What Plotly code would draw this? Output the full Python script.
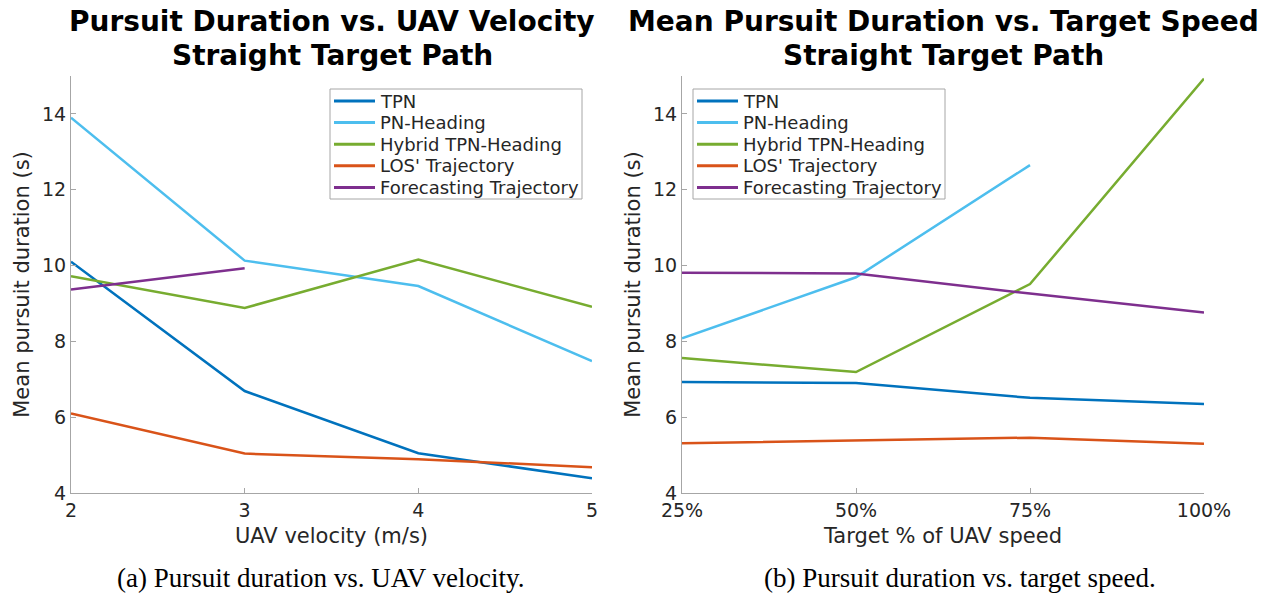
import plotly.graph_objects as go

# --- Données ---
uav_velocity = [2, 3, 4, 5]
target_pct = [25, 50, 75, 100]
target_labels = ["25%", "50%", "75%", "100%"]

names = ["TPN", "PN-Heading", "Hybrid TPN-Heading", "LOS' Trajectory", "Forecasting Trajectory"]
colors = ["#0072BD", "#4DBEEE", "#77AC30", "#D95319", "#7E2F8E"]

# (a) durée vs vitesse UAV
tpn_a = [10.1, 6.69, 5.05, 4.39]
pnh_a = [13.9, 10.13, 9.46, 7.48]
hyb_a = [9.72, 8.88, 10.16, 8.91]
los_a = [6.1, 5.04, 4.89, 4.68]
fct_a = [9.37, 9.93, None, None]

# (b) durée vs vitesse cible
tpn_b = [6.93, 6.90, 6.51, 6.35]
pnh_b = [8.08, 9.69, 12.65, None]
hyb_b = [7.56, 7.19, 9.51, 14.93]
los_b = [5.31, 5.38, 5.46, 5.30]
fct_b = [9.81, 9.79, 9.26, 8.76]

series_a = [tpn_a, pnh_a, hyb_a, los_a, fct_a]
series_b = [tpn_b, pnh_b, hyb_b, los_b, fct_b]

W, H = 1270, 600
txt = "#262626"
axc = "#a6a6a6"
font = "DejaVu Sans"

fig = go.Figure()

for name, col, ya in zip(names, colors, series_a):
    fig.add_trace(go.Scatter(x=uav_velocity, y=ya, mode="lines", name=name,
                             line=dict(color=col, width=2.5), xaxis="x", yaxis="y",
                             showlegend=False))
for name, col, yb in zip(names, colors, series_b):
    fig.add_trace(go.Scatter(x=target_pct, y=yb, mode="lines", name=name,
                             line=dict(color=col, width=2.5), xaxis="x2", yaxis="y2",
                             showlegend=False))

axis_common = dict(showline=True, linecolor=axc, linewidth=1, showgrid=False, zeroline=False,
                   ticks="inside", ticklen=5, tickcolor=axc, automargin=False,
                   tickfont=dict(family=font, size=19, color=txt), mirror=False)
title_font = dict(family=font, size=21, color=txt)

fig.update_layout(
    width=W, height=H,
    margin=dict(l=0, r=0, t=0, b=0),
    plot_bgcolor="white", paper_bgcolor="white",
    xaxis=dict(domain=[71 / W, 592 / W], range=[2, 5], tickvals=uav_velocity,
               title=dict(text="UAV velocity (m/s)", font=title_font, standoff=8),
               anchor="y", **axis_common),
    yaxis=dict(domain=[1 - 493 / H, 1 - 76 / H], range=[4, 15], tickvals=[4, 6, 8, 10, 12, 14],
               title=dict(text="Mean pursuit duration (s)", font=title_font, standoff=6),
               anchor="x", **axis_common),
    xaxis2=dict(domain=[682 / W, 1204 / W], range=[25, 100], tickvals=target_pct,
                ticktext=target_labels,
                title=dict(text="Target % of UAV speed", font=title_font, standoff=8),
                anchor="y2", **axis_common),
    yaxis2=dict(domain=[1 - 493 / H, 1 - 76 / H], range=[4, 15], tickvals=[4, 6, 8, 10, 12, 14],
                title=dict(text="Mean pursuit duration (s)", font=title_font, standoff=6),
                anchor="x2", **axis_common),
)

# --- Légendes (style MATLAB, lignes serrées) ---
row_h = 21.6
for box_x in (330, 693):
    box_y = 89
    fig.add_shape(type="rect", xref="paper", yref="paper",
                  x0=box_x / W, x1=(box_x + 252) / W, y0=1 - box_y / H, y1=1 - (box_y + 110) / H,
                  line=dict(color=axc, width=1), fillcolor="white", layer="above")
    for k, (name, col) in enumerate(zip(names, colors)):
        yc = box_y + 12 + k * row_h
        fig.add_shape(type="line", xref="paper", yref="paper",
                      x0=(box_x + 4) / W, x1=(box_x + 45) / W, y0=1 - yc / H, y1=1 - yc / H,
                      line=dict(color=col, width=3), layer="above")
        fig.add_annotation(text=name, x=(box_x + 48) / W, y=1 - yc / H, xref="paper", yref="paper",
                           xanchor="left", yanchor="middle", showarrow=False,
                           font=dict(family=font, size=18, color=txt))

# --- Titres et sous-légendes ---
titles = [("Pursuit Duration vs. UAV Velocity", "Straight Target Path", 332),
          ("Mean Pursuit Duration vs. Target Speed", "Straight Target Path", 943)]
for t1, t2, xc in titles:
    for t, yc in ((t1, 22), (t2, 55)):
        fig.add_annotation(text="<b>" + t + "</b>", x=xc / W, y=1 - yc / H,
                           xref="paper", yref="paper", xanchor="center", yanchor="middle",
                           showarrow=False, font=dict(family=font, size=28, color="black"))

captions = [("(a) Pursuit duration vs. UAV velocity.", 320),
            ("(b) Pursuit duration vs. target speed.", 960)]
for c, xc in captions:
    fig.add_annotation(text=c, x=xc / W, y=1 - 578 / H, xref="paper", yref="paper",
                       xanchor="center", yanchor="middle", showarrow=False,
                       font=dict(family="Liberation Serif", size=27, color="black"))

fig.write_html("out.html", config={"displayModeBar": False},
               post_script="document.body.style.margin='0px';")
